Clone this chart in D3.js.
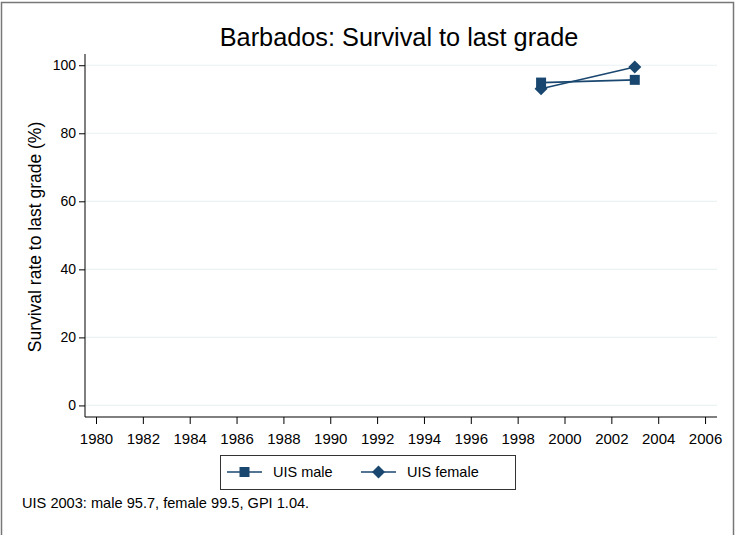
<!DOCTYPE html>
<html>
<head>
<meta charset="utf-8">
<script src="https://cdn.jsdelivr.net/npm/d3@7"></script>
<style>
  body { margin: 0; background: #fff; }
  svg { display: block; font-family: "Liberation Sans", Arial, sans-serif; }
</style>
</head>
<body>
<div id="chart"></div>
<script>
// data
const years = [1999, 2003];
const maleValues = [94.9, 95.7];
const femaleValues = [93.1, 99.5];
const xTicks = d3.range(1980, 2007, 2);
const yTicks = [0, 20, 40, 60, 80, 100];
const seriesNames = ["UIS male", "UIS female"];

const W = 736, H = 535;
const color = "#1a476f";
const font = "Liberation Sans, Arial, sans-serif";

const svg = d3.select("#chart")
    .append("svg")
    .attr("width", W)
    .attr("height", H);

// outer frame (no bottom edge visible)
svg.append("path")
    .attr("d", `M1.5,${H} V2.5 H733.5 V${H}`)
    .attr("fill", "none")
    .attr("stroke", "#777")
    .attr("stroke-width", 1.5);

const x = d3.scaleLinear().domain([1979.53, 2006.51]).range([85, 717]);
const y = d3.scaleLinear().domain([-3.4, 103.3]).range([417, 54]);

// gridlines
svg.append("g")
    .selectAll("line")
    .data(yTicks)
    .join("line")
    .attr("x1", 85).attr("x2", 717)
    .attr("y1", d => y(d)).attr("y2", d => y(d))
    .attr("stroke", "#eaf2f3")
    .attr("stroke-width", 1.2);

// y axis
const yAxis = svg.append("g")
    .attr("transform", "translate(85,0)")
    .call(d3.axisLeft(y).tickValues(yTicks).tickSize(6).tickPadding(3));
yAxis.select(".domain").attr("d", `M0,54 V417`).attr("stroke", "#000");
yAxis.selectAll("text").attr("font-size", 14).attr("fill", "#000")
    .attr("font-family", font);

// x axis
const xAxis = svg.append("g")
    .attr("transform", "translate(0,417)")
    .call(d3.axisBottom(x).tickValues(xTicks).tickFormat(d3.format("d")).tickSize(7).tickPadding(9));
xAxis.select(".domain").attr("d", `M85,0 H717`).attr("stroke", "#000");
xAxis.selectAll("text").attr("font-size", 15).attr("fill", "#000")
    .attr("font-family", font);

// title
svg.append("text")
    .attr("x", 399)
    .attr("y", 46)
    .attr("text-anchor", "middle")
    .attr("font-size", 25.3)
    .text("Barbados: Survival to last grade");

// y axis title
svg.append("text")
    .attr("transform", "translate(41,237) rotate(-90)")
    .attr("text-anchor", "middle")
    .attr("font-size", 17.5)
    .text("Survival rate to last grade (%)");

const line = d3.line().x(d => x(d[0])).y(d => y(d[1]));
const maleData = years.map((yr, i) => [yr, maleValues[i]]);
const femaleData = years.map((yr, i) => [yr, femaleValues[i]]);

const square = d3.symbol().type(d3.symbolSquare).size(100);
const diamond = d3.symbol().type(d3.symbolSquare).size(85);

function drawSeries(data, sym, rotate) {
    svg.append("path")
        .datum(data)
        .attr("d", line)
        .attr("fill", "none")
        .attr("stroke", color)
        .attr("stroke-width", 1.6);
    svg.append("g")
        .selectAll("path")
        .data(data)
        .join("path")
        .attr("d", sym)
        .attr("transform", d => `translate(${x(d[0])},${y(d[1])}) rotate(${rotate})`)
        .attr("fill", color);
}
drawSeries(maleData, square, 0);
drawSeries(femaleData, diamond, 45);

// legend
const legend = svg.append("g");
legend.append("rect")
    .attr("x", 220.5).attr("y", 455.5)
    .attr("width", 295).attr("height", 34)
    .attr("fill", "#fff")
    .attr("stroke", "#333")
    .attr("stroke-width", 1);

const legendItems = [
    { name: seriesNames[0], x0: 227, sym: square, rot: 0 },
    { name: seriesNames[1], x0: 361, sym: diamond, rot: 45 }
];
legendItems.forEach(it => {
    legend.append("line")
        .attr("x1", it.x0).attr("x2", it.x0 + 35)
        .attr("y1", 472).attr("y2", 472)
        .attr("stroke", color).attr("stroke-width", 1.6);
    legend.append("path")
        .attr("d", it.sym)
        .attr("transform", `translate(${it.x0 + 17.5},472) rotate(${it.rot})`)
        .attr("fill", color);
    legend.append("text")
        .attr("x", it.x0 + 46)
        .attr("y", 477)
        .attr("font-size", 14.5)
        .text(it.name);
});

// note
svg.append("text")
    .attr("x", 22)
    .attr("y", 508)
    .attr("font-size", 14.6)
    .text("UIS 2003: male 95.7, female 99.5, GPI 1.04.");
</script>
</body>
</html>
